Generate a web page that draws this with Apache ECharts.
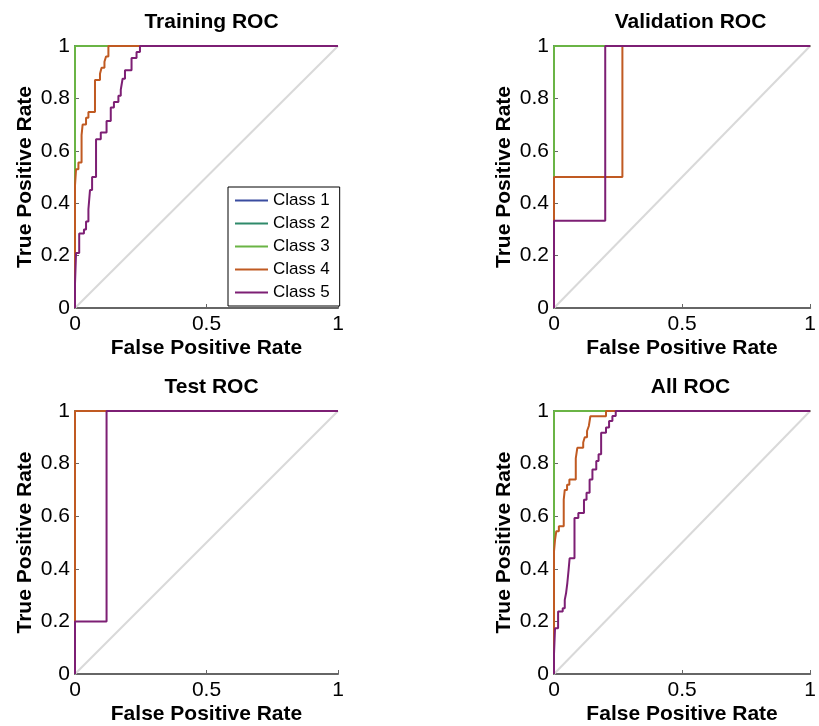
<!DOCTYPE html>
<html>
<head>
<meta charset="utf-8">
<script src="https://cdn.jsdelivr.net/npm/echarts@6/dist/echarts.min.js"></script>
<style>
html,body{margin:0;padding:0;background:#fff;}
#chart{width:819px;height:726px;}
</style>
</head>
<body>
<div id="chart"></div>
<script>
// ---- Data (FPR where TPR steps up, and TPR after the step) ----
var classNames = ['Class 1', 'Class 2', 'Class 3', 'Class 4', 'Class 5'];
var panelTitles = ['Training ROC', 'Validation ROC', 'Test ROC', 'All ROC'];
var xTicks = [0, 0.5, 1];
var yTicks = [0, 0.2, 0.4, 0.6, 0.8, 1];

// perfect classes (1, 2, 3) in every panel
var perfectFpr = [0];
var perfectTpr = [1];

// Training
var trainC4Fpr = [0, 0.004, 0.013, 0.025, 0.029, 0.042, 0.051, 0.076, 0.095, 0.101, 0.112, 0.118, 0.127];
var trainC4Tpr = [0.468, 0.53, 0.555, 0.66, 0.70, 0.726, 0.748, 0.87, 0.894, 0.917, 0.94, 0.96, 1.0];
var trainC5Fpr = [0, 0.004, 0.016, 0.034, 0.042, 0.051, 0.057, 0.065, 0.080, 0.098, 0.120, 0.136, 0.148, 0.165, 0.174, 0.181, 0.190, 0.215, 0.234, 0.247];
var trainC5Tpr = [0.093, 0.21, 0.284, 0.30, 0.33, 0.377, 0.45, 0.50, 0.644, 0.67, 0.714, 0.765, 0.786, 0.81, 0.833, 0.875, 0.907, 0.954, 0.977, 1.0];

// Validation
var valC4Fpr = [0, 0.267];
var valC4Tpr = [0.5, 1.0];
var valC5Fpr = [0, 0.2];
var valC5Tpr = [0.333, 1.0];

// Test
var testC4Fpr = [0];
var testC4Tpr = [1.0];
var testC5Fpr = [0, 0.12];
var testC5Tpr = [0.2, 1.0];

// All
var allC4Fpr = [0, 0.004, 0.009, 0.019, 0.038, 0.042, 0.051, 0.060, 0.085, 0.091, 0.114, 0.120, 0.129, 0.136, 0.142, 0.203];
var allC4Tpr = [0.466, 0.51, 0.543, 0.562, 0.663, 0.70, 0.72, 0.74, 0.82, 0.86, 0.88, 0.90, 0.924, 0.943, 0.98, 1.0];
var allC5Fpr = [0, 0.004, 0.016, 0.034, 0.042, 0.047, 0.052, 0.057, 0.061, 0.080, 0.095, 0.117, 0.127, 0.139, 0.150, 0.165, 0.174, 0.184, 0.203, 0.215, 0.228, 0.241];
var allC5Tpr = [0.076, 0.174, 0.238, 0.25, 0.282, 0.307, 0.346, 0.396, 0.44, 0.593, 0.612, 0.663, 0.689, 0.74, 0.778, 0.81, 0.836, 0.917, 0.937, 0.962, 0.981, 1.0];

var panels = [
  [[perfectFpr, perfectTpr], [perfectFpr, perfectTpr], [perfectFpr, perfectTpr], [trainC4Fpr, trainC4Tpr], [trainC5Fpr, trainC5Tpr]],
  [[perfectFpr, perfectTpr], [perfectFpr, perfectTpr], [perfectFpr, perfectTpr], [valC4Fpr, valC4Tpr], [valC5Fpr, valC5Tpr]],
  [[perfectFpr, perfectTpr], [perfectFpr, perfectTpr], [perfectFpr, perfectTpr], [testC4Fpr, testC4Tpr], [testC5Fpr, testC5Tpr]],
  [[perfectFpr, perfectTpr], [perfectFpr, perfectTpr], [perfectFpr, perfectTpr], [allC4Fpr, allC4Tpr], [allC5Fpr, allC5Tpr]]
];

// ---- Styling ----
var colors = ['#3a4da0', '#2f8a6a', '#6ab445', '#c05a22', '#7d1f74'];
var FONT = 'Liberation Sans, Arial, Helvetica, sans-serif';
var grids = [
  {left: 75, top: 46, width: 263, height: 262},
  {left: 554, top: 46, width: 263, height: 262},
  {left: 75, top: 411, width: 263, height: 263},
  {left: 554, top: 411, width: 263, height: 263}
];

function stepPath(fpr, tpr) {
  var pts = [[0, 0]];
  var y = 0;
  for (var i = 0; i < fpr.length; i++) {
    pts.push([fpr[i], y]);
    pts.push([fpr[i], tpr[i]]);
    y = tpr[i];
  }
  pts.push([1, y]);
  return pts;
}

var option = {
  animation: false,
  backgroundColor: '#fff',
  textStyle: {fontFamily: FONT},
  title: [],
  grid: [],
  xAxis: [],
  yAxis: [],
  series: [],
  legend: {
    data: classNames,
    orient: 'vertical',
    left: 228, top: 187,
    padding: [5, 10, 5, 7],
    itemGap: 6,
    itemWidth: 33,
    itemHeight: 2,
    icon: 'rect',
    borderColor: '#000',
    borderWidth: 1,
    backgroundColor: '#fff',
    selectedMode: false,
    textStyle: {fontFamily: FONT, fontSize: 17, color: '#000'}
  }
};

grids.forEach(function (g, gi) {
  option.grid.push({left: g.left, top: g.top, width: g.width, height: g.height, containLabel: false});
  option.title.push({
    text: panelTitles[gi],
    left: g.left + g.width / 2,
    top: g.top - 39,
    textAlign: 'center',
    textStyle: {fontFamily: FONT, fontSize: 21, fontWeight: 'bold', color: '#000'}
  });
  option.xAxis.push({
    type: 'value', gridIndex: gi, min: 0, max: 1, interval: 0.5,
    name: 'False Positive Rate', nameLocation: 'middle', nameGap: 30,
    nameTextStyle: {fontFamily: FONT, fontSize: 21, fontWeight: 'bold', color: '#000'},
    axisLine: {show: true, lineStyle: {color: '#666', width: 2}},
    axisTick: {show: true, inside: true, length: 4, lineStyle: {color: '#666'}},
    axisLabel: {fontFamily: FONT, fontSize: 21, color: '#000', margin: 6,
      formatter: function (v) { return xTicks.indexOf(v) >= 0 ? String(v) : ''; }},
    splitLine: {show: false}
  });
  option.yAxis.push({
    type: 'value', gridIndex: gi, min: 0, max: 1, interval: 0.2,
    name: 'True Positive Rate', nameLocation: 'middle', nameGap: 39,
    nameTextStyle: {fontFamily: FONT, fontSize: 21, fontWeight: 'bold', color: '#000'},
    axisLine: {show: true, lineStyle: {color: '#666', width: 2}},
    axisTick: {show: true, inside: true, length: 4, lineStyle: {color: '#666'}},
    axisLabel: {fontFamily: FONT, fontSize: 21, color: '#000', margin: 5,
      formatter: function (v) { var r = Math.round(v * 10) / 10; return yTicks.indexOf(r) >= 0 ? String(r) : ''; }},
    splitLine: {show: false}
  });
  // diagonal reference
  option.series.push({
    type: 'line', xAxisIndex: gi, yAxisIndex: gi, data: [[0, 0], [1, 1]],
    symbol: 'none', silent: true, clip: false, z: 1,
    lineStyle: {color: '#d9d9d9', width: 2}
  });
  panels[gi].forEach(function (c, ci) {
    option.series.push({
      type: 'line', name: classNames[ci], xAxisIndex: gi, yAxisIndex: gi,
      data: stepPath(c[0], c[1]),
      symbol: 'none', clip: false, z: 2 + ci,
      color: colors[ci],
      lineStyle: {color: colors[ci], width: 2}
    });
  });
});

var chart = echarts.init(document.getElementById('chart'), null, {renderer: 'canvas'});
chart.setOption(option);
</script>
</body>
</html>
